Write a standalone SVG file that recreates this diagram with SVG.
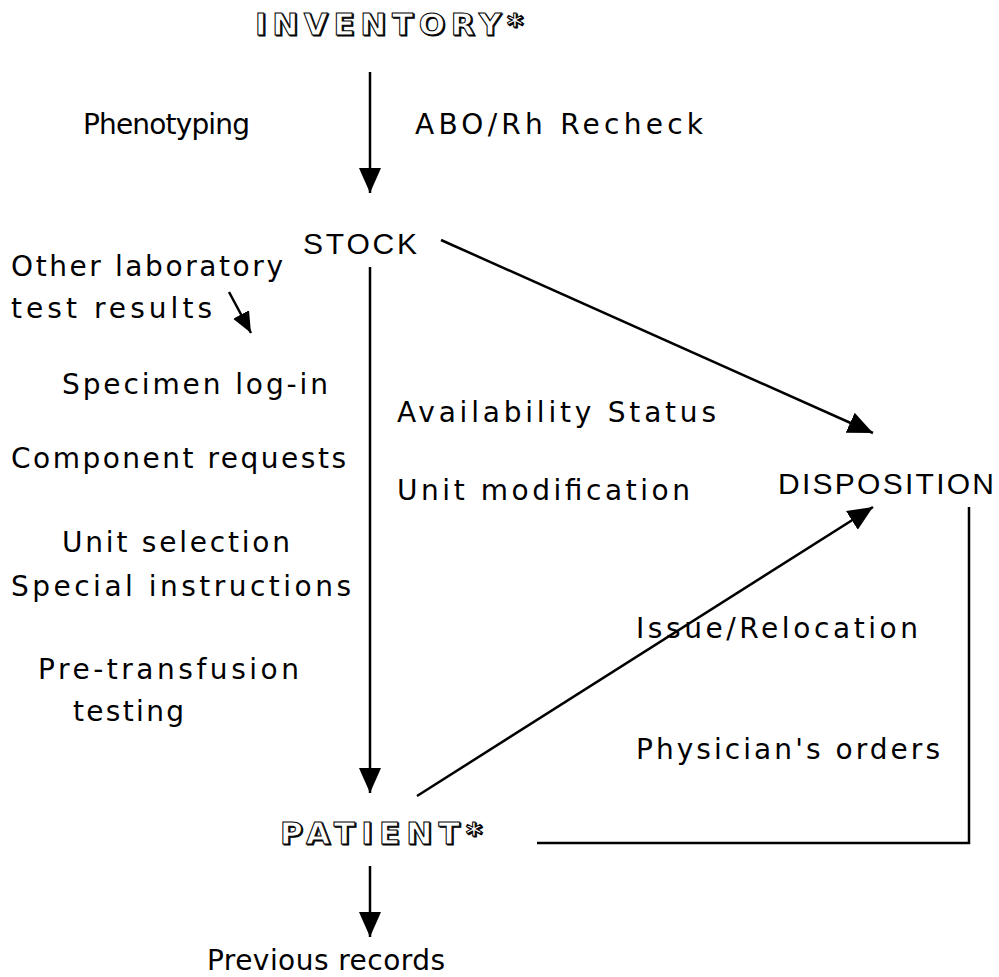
<svg xmlns="http://www.w3.org/2000/svg" width="999" height="977" viewBox="0 0 999 977">
<style>
.t{font-family:"DejaVu Sans","Verdana",sans-serif;font-size:28px;fill:#000}
.h{font-family:"Liberation Sans",Arial,sans-serif;font-size:30px;fill:#000}
.o{font-family:"DejaVu Sans","Verdana",sans-serif;font-size:31px;font-weight:bold}
.os{fill:#000;stroke:#000;stroke-width:1}
.of{fill:#fff;stroke:#000;stroke-width:1}
.c{stroke:#000;stroke-width:2.5;fill:none}
</style>
<defs>
<marker id="ah" markerUnits="userSpaceOnUse" markerWidth="26" markerHeight="24" refX="25" refY="11" orient="auto">
<path d="M0,0 L25,11 L0,22 Z" fill="#000"/>
</marker>
<marker id="ahs" markerUnits="userSpaceOnUse" markerWidth="22" markerHeight="20" refX="21" refY="9" orient="auto">
<path d="M0,0 L21,9 L0,18 Z" fill="#000"/>
</marker>
</defs>
<g id="connectors">
<line class="c" x1="370" y1="72" x2="370" y2="193" marker-end="url(#ah)"/>
<line class="c" x1="370" y1="267" x2="370" y2="793" marker-end="url(#ah)"/>
<line class="c" x1="370" y1="866" x2="370" y2="937" marker-end="url(#ah)"/>
<line class="c" x1="441" y1="240" x2="873" y2="433" marker-end="url(#ah)"/>
<line class="c" x1="417" y1="796" x2="873" y2="507" marker-end="url(#ah)"/>
<polyline class="c" points="537,843 969,843 969,507"/>
<line class="c" x1="229" y1="292" x2="251" y2="333" marker-end="url(#ahs)"/>
</g>
<g id="inventory">
<text class="o os" x="256.2" y="36.2" textLength="268" lengthAdjust="spacing">INVENTORY*</text>
<text class="o of" x="255" y="35" textLength="268" lengthAdjust="spacing">INVENTORY*</text>
</g>
<g id="stock"><text class="h" x="303" y="254" textLength="114" lengthAdjust="spacing">STOCK</text></g>
<g id="disposition"><text class="h" x="778" y="494" textLength="216" lengthAdjust="spacing">DISPOSITION</text></g>
<g id="patient">
<text class="o os" x="281.2" y="845.2" textLength="202" lengthAdjust="spacing">PATIENT*</text>
<text class="o of" x="280" y="844" textLength="202" lengthAdjust="spacing">PATIENT*</text>
</g>
<g id="labels">
<text class="t" x="83" y="134" textLength="167" lengthAdjust="spacing">Phenotyping</text>
<text class="t" x="415" y="134" textLength="288" lengthAdjust="spacing">ABO/Rh Recheck</text>
<text class="t" x="11" y="276" textLength="272" lengthAdjust="spacing">Other laboratory</text>
<text class="t" x="11" y="318" textLength="201" lengthAdjust="spacing">test results</text>
<text class="t" x="62" y="394" textLength="266" lengthAdjust="spacing">Specimen log-in</text>
<text class="t" x="397" y="422" textLength="319" lengthAdjust="spacing">Availability Status</text>
<text class="t" x="11" y="468" textLength="335" lengthAdjust="spacing">Component requests</text>
<text class="t" x="397" y="500" textLength="293" lengthAdjust="spacing">Unit modification</text>
<text class="t" x="62" y="552" textLength="228" lengthAdjust="spacing">Unit selection</text>
<text class="t" x="11" y="596" textLength="340" lengthAdjust="spacing">Special instructions</text>
<text class="t" x="636" y="638" textLength="282" lengthAdjust="spacing">Issue/Relocation</text>
<text class="t" x="38" y="679" textLength="261" lengthAdjust="spacing">Pre-transfusion</text>
<text class="t" x="73" y="721" textLength="111" lengthAdjust="spacing">testing</text>
<text class="t" x="636" y="759" textLength="304" lengthAdjust="spacing">Physician's orders</text>
<text class="t" x="207" y="970" textLength="238" lengthAdjust="spacing">Previous records</text>
</g>
</svg>
